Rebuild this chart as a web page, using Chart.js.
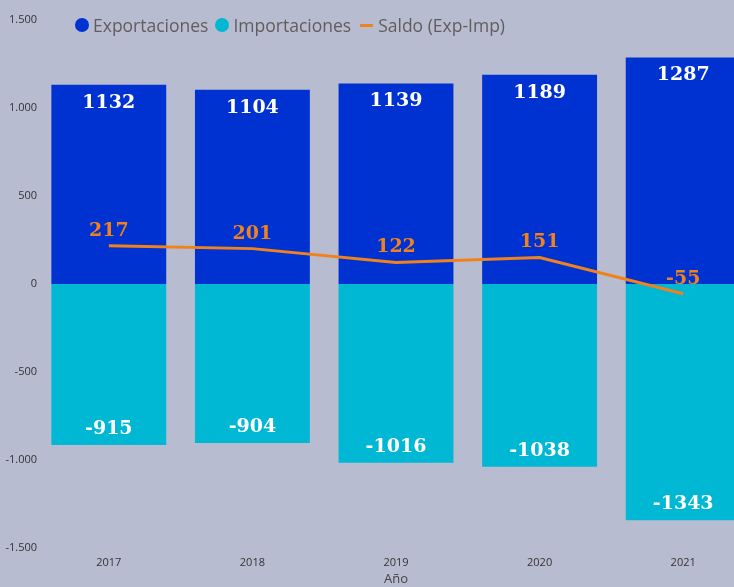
<!DOCTYPE html>
<html>
<head>
<meta charset="utf-8">
<script src="https://cdn.jsdelivr.net/npm/chart.js@4.4.1/dist/chart.umd.min.js"></script>
<style>
  html, body { margin: 0; padding: 0; background: #b8bcd0; overflow: hidden; }
  #wrap { position: relative; width: 734px; height: 587px; overflow: hidden; }
  #chart { position: absolute; left: 0; top: 0; }
  #legend {
    position: absolute; left: 75px; top: 13px;
    display: flex; align-items: center;
    font-family: "Open Sans", sans-serif; font-size: 17.5px; color: #605e5c;
  }
  #legend .dot { width: 14px; height: 14px; border-radius: 50%; margin-right: 4px; }
  #legend .dash { width: 13px; height: 3px; margin-right: 5px; margin-left: 2px; }
  #legend .txt { margin-right: 7px; }
</style>
</head>
<body>
<div id="wrap">
  <canvas id="chart" width="760" height="587"></canvas>
  <div id="legend">
    <span class="dot" style="background:#0032d2"></span><span class="txt">Exportaciones</span>
    <span class="dot" style="background:#00b8d4"></span><span class="txt">Importaciones</span>
    <span class="dash" style="background:#f0821e"></span><span class="txt">Saldo (Exp-Imp)</span>
  </div>
</div>
<script>
// datos
const anios = ["2017", "2018", "2019", "2020", "2021"];
const exportaciones = [1132, 1104, 1139, 1189, 1287];
const importaciones = [-915, -904, -1016, -1038, -1343];
const saldo = [217, 201, 122, 151, -55];

const AZUL = "#0032d2";
const CIAN = "#00b8d4";
const NARANJA = "#f0821e";

// etiquetas de valores
const etiquetas = {
  id: "etiquetas",
  afterDatasetsDraw(chart) {
    const ctx = chart.ctx;
    ctx.save();
    ctx.font = "bold 19px 'DejaVu Serif', serif";
    ctx.textAlign = "center";
    ctx.textBaseline = "middle";
    chart.data.datasets.forEach((ds, i) => {
      const meta = chart.getDatasetMeta(i);
      meta.data.forEach((el, j) => {
        const v = ds.data[j];
        let y;
        if (ds.type === "line") {
          ctx.fillStyle = NARANJA;
          y = el.y - 15;
        } else {
          ctx.fillStyle = "#ffffff";
          y = v >= 0 ? el.y + 18 : el.y - 16;
        }
        ctx.fillText(String(v), el.x, y);
      });
    });
    ctx.restore();
  }
};

new Chart(document.getElementById("chart"), {
  type: "bar",
  data: {
    labels: anios,
    datasets: [
      {
        type: "line",
        label: "Saldo (Exp-Imp)",
        data: saldo,
        borderColor: NARANJA,
        backgroundColor: NARANJA,
        borderWidth: 3,
        pointRadius: 0,
        tension: 0,
        order: 0
      },
      {
        label: "Exportaciones",
        data: exportaciones,
        backgroundColor: AZUL,
        order: 1
      },
      {
        label: "Importaciones",
        data: importaciones,
        backgroundColor: CIAN,
        order: 1
      }
    ]
  },
  options: {
    responsive: false,
    animation: false,
    layout: { padding: { top: 20, right: 5, left: 0, bottom: 0 } },
    datasets: { bar: { barPercentage: 0.8, categoryPercentage: 1 } },
    plugins: {
      legend: { display: false },
      tooltip: { enabled: false }
    },
    scales: {
      x: {
        stacked: true,
        grid: { display: false, drawTicks: false },
        border: { display: false },
        ticks: {
          color: "#333333",
          padding: 8,
          font: { family: "'Open Sans', sans-serif", size: 11 }
        },
        title: {
          display: true,
          text: "Año",
          color: "#444444",
          padding: { top: 0, bottom: 0 },
          font: { family: "'Open Sans', sans-serif", size: 13 }
        },
        afterFit(scale) { scale.height = 39; }
      },
      y: {
        stacked: true,
        min: -1500,
        max: 1500,
        grid: { display: false, drawTicks: false },
        border: { display: false },
        ticks: {
          stepSize: 500,
          padding: 0,
          color: "#333333",
          font: { family: "'Open Sans', sans-serif", size: 11 },
          callback: (v) => v.toLocaleString("es-ES", { useGrouping: "always" }).replace(/\u2212/, "-")
        },
        afterFit(scale) { scale.width = 37; }
      }
    }
  },
  plugins: [etiquetas]
});
</script>
</body>
</html>
